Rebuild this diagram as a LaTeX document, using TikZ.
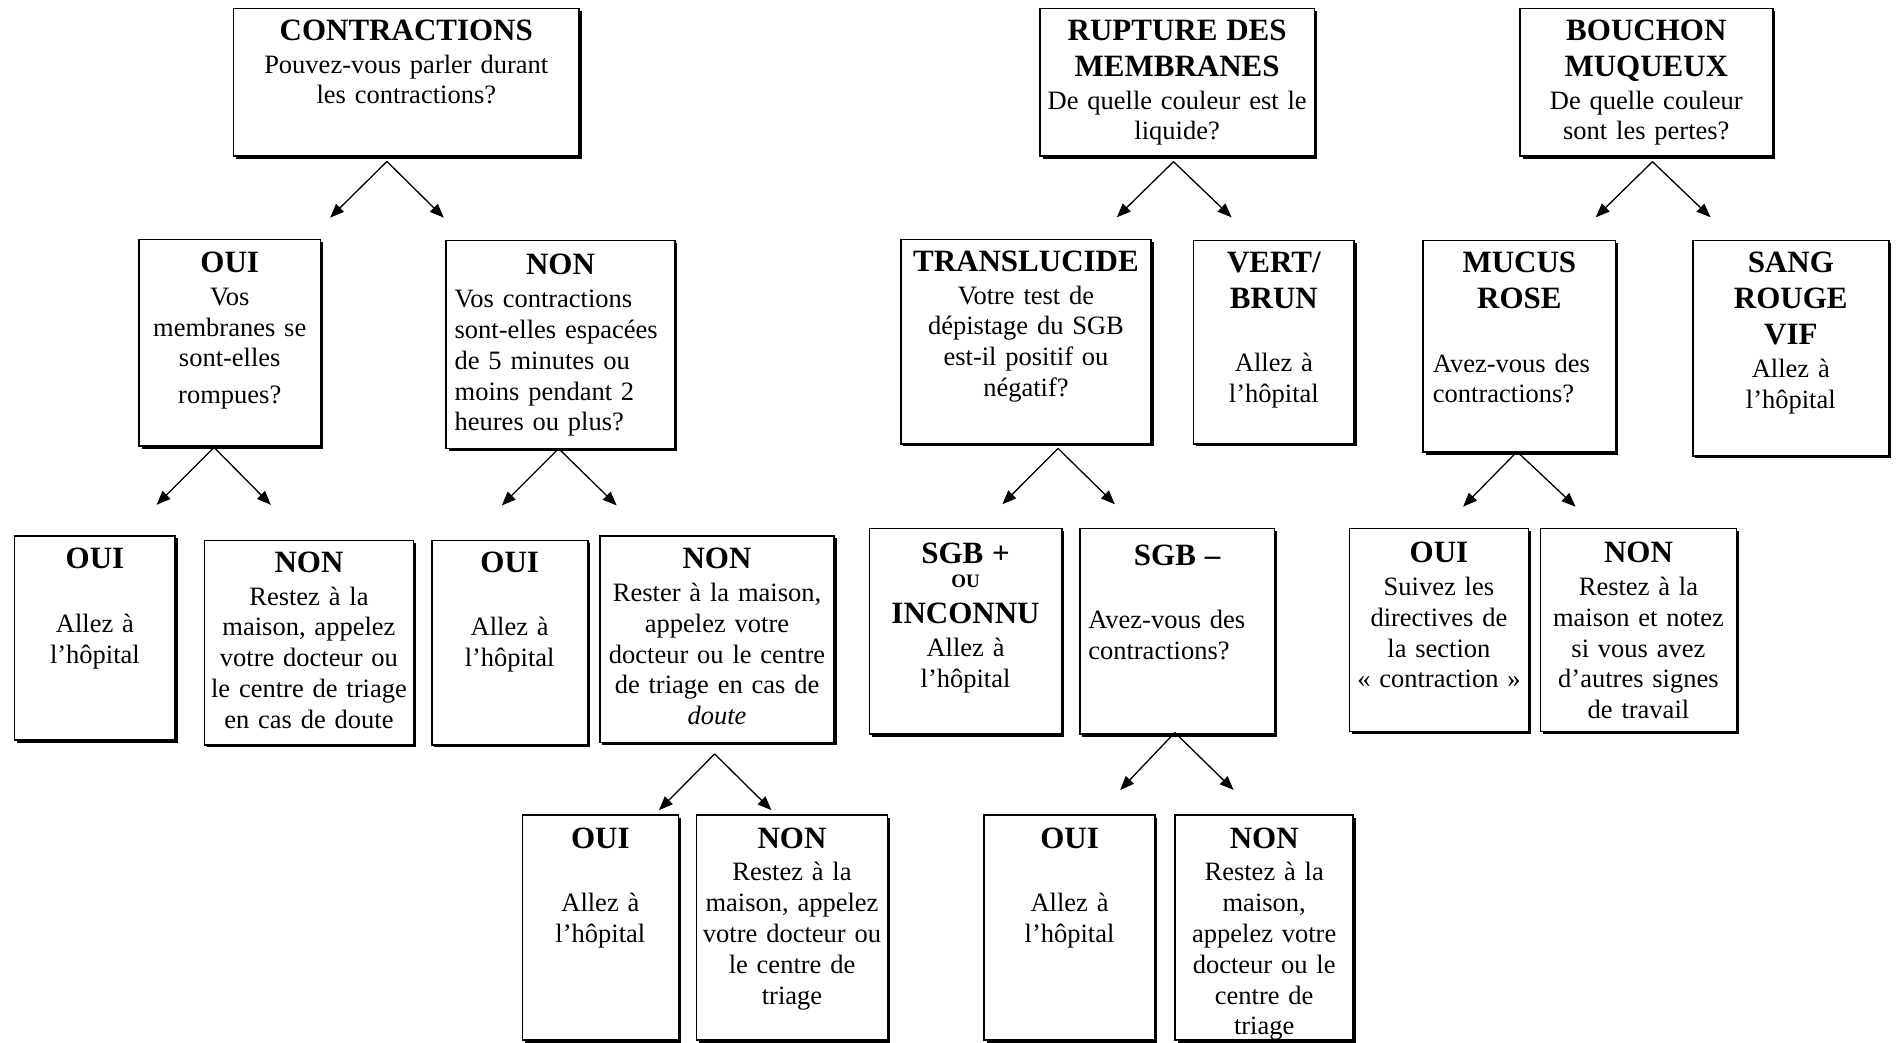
\documentclass[tikz,border=0pt]{standalone}
\usepackage{fontspec}
\setmainfont{Liberation Serif}
\usetikzlibrary{shadows,fit,arrows.meta,calc}
\newcommand\hdfont{\fontsize{15.5}{18}\bfseries\selectfont}
\newcommand\txfont{\fontsize{13.25}{15.4}\selectfont}
\newcommand\oufont{\fontsize{9.5}{12}\bfseries\selectfont}
\newlength\blk \setlength\blk{15.4pt}
\newcommand\hd[1]{{\hdfont #1\par}\vspace{1pt}}
\newcommand\un{0.6046pt}
% #1 pad, #2 name, #3 x1, #4 y1, #5 x2, #6 y2, #7 text top, #8 content
\newcommand\fbx[8][2]{%
  \node[box, fit={(#3,#4) (#5,#6)}] (#2) {};
  \node[txt, text width={(#5-#3-2*#1)*\un}] (#2-t) at ({(#3+#5)/2},#7) {#8};
}
\begin{document}
\begin{tikzpicture}[x=0.6046pt,y=-0.6046pt,
  box/.style={draw, line width=0.85pt, fill=white, inner sep=0pt,
    drop shadow={shadow xshift=1.3pt, shadow yshift=-1.3pt, opacity=1, fill=black}},
  txt/.style={anchor=north, inner sep=0pt, align=center, font=\txfont},
  arr/.style={-{Triangle[length=7pt,width=5.5pt]}, line width=0.65pt}]
\fill[white] (0,0) rectangle (1568,862);
\useasboundingbox (0,0) rectangle (1568,862);

% ---------- CONTRACTIONS ----------
\fbx{b1}{193}{7}{479}{129}{16}{\hd{CONTRACTIONS}Pouvez-vous parler durant\\les contractions?}
\fbx{b2}{115}{198}{265}{369}{208}{\hd{OUI}Vos\\membranes se\\sont-elles\\[3pt]rompues?}
\fbx[7]{b3}{369}{199}{558}{371}{210}{\hd{NON}{\raggedright Vos contractions\\sont-elles espacées\\de 5 minutes ou\\moins pendant 2\\heures ou plus?\par}}
\fbx{b4}{12}{443}{145}{612}{453}{\hd{OUI}\vspace{\blk}Allez à\\l’hôpital}
\fbx{b5}{169}{447}{342}{616}{456}{\hd{NON}Restez à la\\maison, appelez\\votre docteur ou\\le centre de triage\\en cas de doute}
\fbx{b6}{357}{447}{486}{616}{456}{\hd{OUI}\vspace{\blk}Allez à\\l’hôpital}
\fbx{b7}{496}{443}{690}{614}{453}{\hd{NON}Rester à la maison,\\appelez votre\\docteur ou le centre\\de triage en cas de\\\textit{doute}}
\fbx{b8}{432}{674}{561}{860}{684}{\hd{OUI}\vspace{\blk}Allez à\\l’hôpital}
\fbx{b9}{576}{674}{734}{860}{684}{\hd{NON}Restez à la\\maison, appelez\\votre docteur ou\\le centre de\\triage}

% ---------- RUPTURE DES MEMBRANES ----------
\fbx{b10}{860}{7}{1087}{129}{16}{\hd{RUPTURE DES\\MEMBRANES}De quelle couleur est le\\liquide?}
\fbx[1]{b11}{745}{198}{952}{367}{207}{\hd{TRANSLUCIDE}Votre test de\\dépistage du SGB\\est-il positif ou\\négatif?}
\fbx{b12}{987}{199}{1120}{367}{208}{\hd{VERT/\\BRUN}\vspace{\blk}Allez à\\l’hôpital}
\fbx{b13}{719}{437}{878}{607}{449}{{\hdfont SGB +\par}{\oufont OU\par}{\hdfont INCONNU\par}\vspace{1pt}Allez à\\l’hôpital}
\fbx[7]{b14}{893}{437}{1054}{607}{450}{\hd{SGB –}\vspace{\blk}{\raggedright Avez-vous des\\contractions?\par}}
\fbx{b15}{814}{674}{955}{860}{684}{\hd{OUI}\vspace{\blk}Allez à\\l’hôpital}
\fbx{b16}{972}{674}{1119}{860}{684}{\hd{NON}Restez à la\\maison,\\appelez votre\\docteur ou le\\centre de\\triage}

% ---------- BOUCHON MUQUEUX ----------
\fbx{b17}{1257}{7}{1466}{129}{16}{\hd{BOUCHON\\MUQUEUX}De quelle couleur\\sont les pertes?}
\fbx[8]{b18}{1177}{199}{1336}{374}{208}{\hd{MUCUS\\ROSE}\vspace{\blk}{\raggedright Avez-vous des\\contractions?\par}}
\fbx{b19}{1400}{199}{1562}{377}{208}{\hd{SANG\\ROUGE\\VIF}Allez à\\l’hôpital}
\fbx{b20}{1116}{437}{1264}{605}{448}{\hd{OUI}Suivez les\\directives de\\la section\\«~contraction~»}
\fbx{b21}{1274}{437}{1436}{605}{448}{\hd{NON}Restez à la\\maison et notez\\si vous avez\\d’autres signes\\de travail}

% ---------- arrows ----------
\coordinate (p1) at (320,133.5); \coordinate (p1l) at (273,180);   \coordinate (p1r) at (367,180);
\coordinate (p2) at (177,370);   \coordinate (p2l) at (129.5,417.5); \coordinate (p2r) at (224,417.5);
\coordinate (p3) at (462,371);   \coordinate (p3l) at (415,418);   \coordinate (p3r) at (510,418);
\coordinate (p4) at (591,623.5); \coordinate (p4l) at (545,670);   \coordinate (p4r) at (638,670);
\coordinate (p5) at (970.5,133.7); \coordinate (p5l) at (923.6,179.7); \coordinate (p5r) at (1018.5,179.7);
\coordinate (p6) at (875,370.8); \coordinate (p6l) at (829,417);   \coordinate (p6r) at (922,417);
\coordinate (p7) at (971.6,605.8); \coordinate (p7l) at (926.4,653.3); \coordinate (p7r) at (1020.2,653.3);
\coordinate (p8) at (1366.6,133.7); \coordinate (p8l) at (1319.7,179.7); \coordinate (p8r) at (1414.6,179.7);
\coordinate (p9) at (1254.6,373.5); \coordinate (p9l) at (1210,419); \coordinate (p9r) at (1303,419);
\foreach \i in {1,...,9}{
  \draw[arr] (p\i) -- (p\i l);
  \draw[arr] (p\i) -- (p\i r);
}
\end{tikzpicture}
\end{document}
